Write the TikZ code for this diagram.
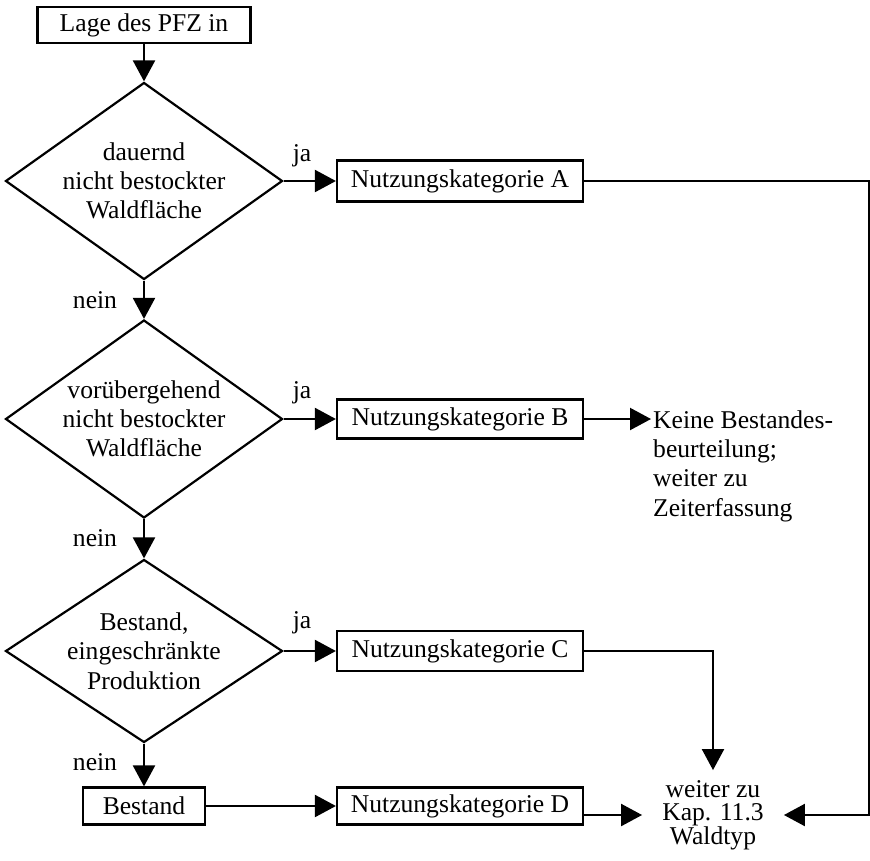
\documentclass[tikz,border=0pt]{standalone}
\usepackage{fontspec}
\setmainfont{Liberation Serif}
\usetikzlibrary{arrows.meta, shapes.geometric}

\begin{document}
\begin{tikzpicture}
	[%
	x=1pt, y=-1pt,%
	font=\fontsize{25.6}{29.3}\selectfont,%
	box/.style     ={rectangle,	draw, line width=2.2pt,	inner sep=0pt,	minimum height=38pt,	minimum width=246pt},%
	decision/.style={diamond,	draw, line width=2.2pt,	inner sep=0pt,	minimum width=277pt,	align=center},%
	arr/.style     ={-{Triangle[length=21pt,width=22pt]}, line width=2.2pt},%
	lbl/.style     ={inner sep=0pt},%
	]

	\useasboundingbox (0,0) rectangle (870,860);

	% start and decisions
	\node (lage) at (144,25)  [box, minimum width=213pt, minimum height=36pt] {Lage des PFZ in};
	\node (q1)   at (144,181) [decision, aspect=1.406, minimum height=197pt] {dauernd\\nicht bestockter\\Waldfläche};
	\node (q2)   at (144,419) [decision, aspect=1.4, minimum height=198pt] {vorübergehend\\nicht bestockter\\Waldfläche};
	\node (q3)   at (144,651) [decision, aspect=1.514, minimum height=183pt] {Bestand,\\eingeschränkte\\Produktion};
	\node (bst)  at (144,806) [box, minimum width=122pt, minimum height=37pt] {Bestand};

	% categories
	\node (katA) at (460,181) [box, minimum height=41pt] {Nutzungskategorie A};
	\node (katB) at (460,419) [box, minimum height=39pt] {Nutzungskategorie B};
	\node (katC) at (460,651) [box, minimum height=40pt] {Nutzungskategorie C};
	\node (katD) at (460,806) [box, minimum height=37pt] {Nutzungskategorie D};

	% targets
	\node (keine)  at (651,466) [lbl, anchor=west, align=left, inner sep=2pt] {Keine Bestandes-\\beurteilung;\\weiter zu\\Zeiterfassung};
	\node (weiter) at (713,815) [align=center, inner xsep=20pt, inner ysep=10pt, font=\fontsize{25.6}{23.5}\selectfont] {weiter zu\\Kap. 11.3\\Waldtyp};

	% ja / nein
	\foreach \y/\n in {156/1,393/2,623/3} \node (ja\n) at (302,\y) [lbl] {ja};
	\foreach \y/\n in {300/1,538/2,762/3} \node (nein\n) at (95,\y) [lbl] {nein};

	% flow
	\draw [arr] (lage) -- (q1);
	\draw [arr] (q1) -- (q2);
	\draw [arr] (q2) -- (q3);
	\draw [arr] (q3) -- (bst);

	\draw [arr] (q1.east) -- (katA);
	\draw [arr] (q2.east) -- (katB);
	\draw [arr] (q3.east) -- (katC);
	\draw [arr] (bst) -- (katD);

	\draw [arr] (katB) -- (keine.west |- katB);
	\draw [arr] (katA.east) -- ++(285,0) |- (weiter.east);
	\draw [arr] (katC.east) -| (weiter.north);
	\draw [arr] (katD.east |- weiter) -- (weiter.west);

\end{tikzpicture}
\end{document}
